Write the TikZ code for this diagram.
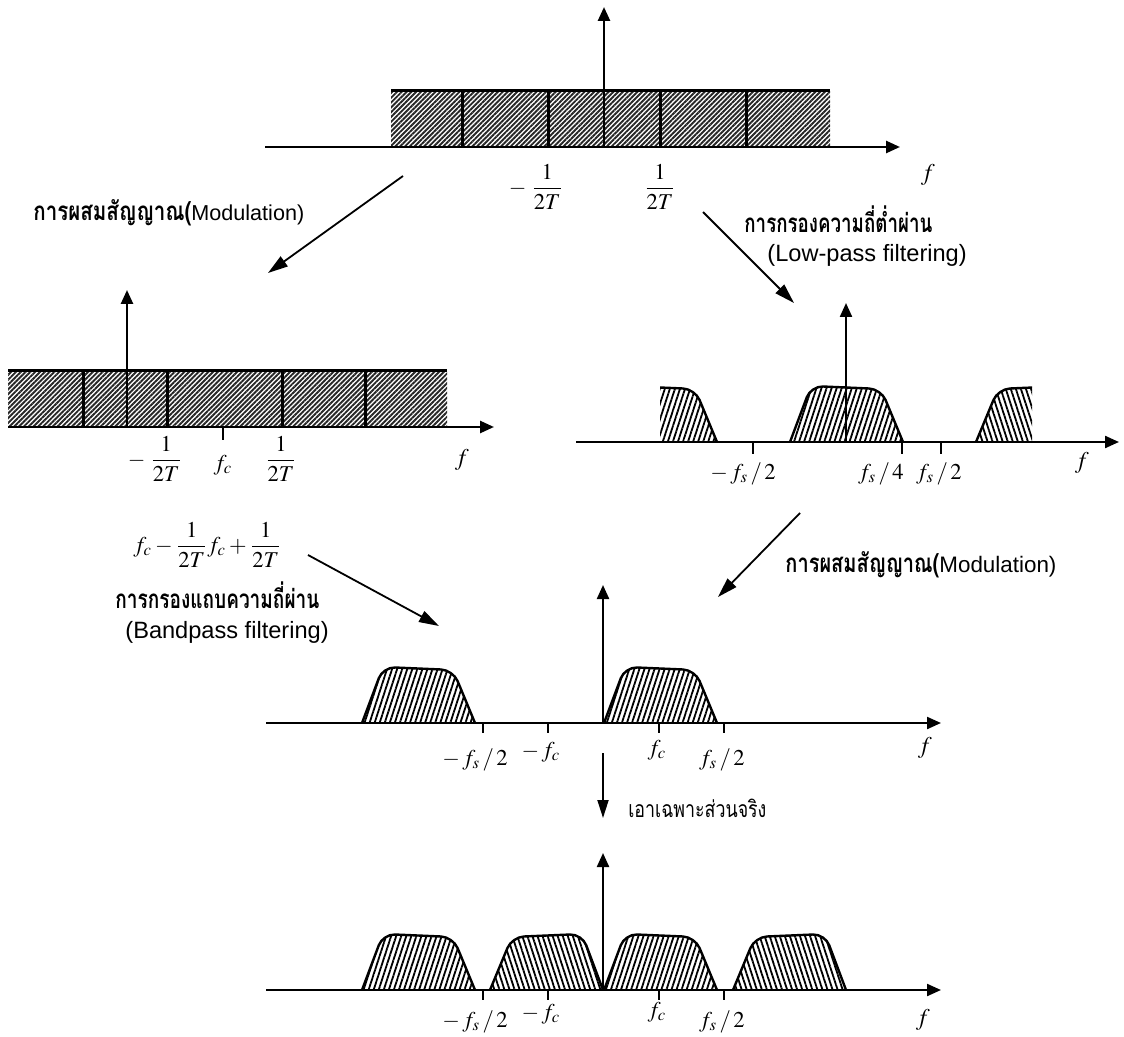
\documentclass[tikz,border=0pt]{standalone}
\usepackage{amsmath}
\usepackage{mathptmx}
\usepackage{fontspec}
\setmainfont{Liberation Serif}
\setsansfont{Liberation Sans}
\newfontfamily\thaifont[Script=Thai]{Loma}
\usetikzlibrary{arrows.meta,patterns.meta}
\newcommand{\fitw}[2]{\resizebox{#1}{\height}{#2}}
\tikzset{
  axisline/.style={line width=1.3pt,-{Triangle[length=7pt,width=6pt]}},
  vaxis/.style={line width=1.1pt,-{Triangle[length=7pt,width=6pt]}},
  flow/.style={line width=0.9pt,-{Triangle[length=10pt,width=6pt]}},
  downflow/.style={line width=0.9pt,-{Triangle[length=9pt,width=5.5pt]}},
  bandbox/.style={pattern={Lines[angle=45,distance=1.7pt,line width=0.95pt]},pattern color=black!85},
  bar/.style={line width=1.5pt},
  hatchup/.style={pattern={Lines[angle=72,distance=2.4pt,line width=0.9pt]},pattern color=black},
  hatchdn/.style={pattern={Lines[angle=108,distance=2.4pt,line width=0.9pt]},pattern color=black},
  lobeline/.style={line width=1.2pt,rounded corners=6pt},
  tickmark/.style={line width=0.9pt},
  mlab/.style={inner sep=0pt,font=\fontsize{11.3}{13}\selectfont},
  flab/.style={inner sep=0pt,font=\fontsize{12}{14}\selectfont},
  thaib/.style={inner sep=0pt,anchor=west,font=\thaifont\bfseries\fontsize{13}{15}\selectfont},
  thair/.style={inner sep=0pt,anchor=west,font=\thaifont\fontsize{11.5}{13}\selectfont},
  latin/.style={inner sep=0pt,anchor=west,font=\sffamily\fontsize{11.8}{14}\selectfont},
  pics/lobeA/.style={code={
    \path[hatchup,draw,lobeline] (0,0) -- (21,-56) -- (91,-53) -- (113,0);
  }},
  pics/lobeB/.style={code={
    \path[hatchdn,draw,lobeline] (0,0) -- (22,-53) -- (92,-56) -- (113,0);
  }},
}
\begin{document}
\begin{tikzpicture}[x=0.5pt,y=-0.5pt]
\useasboundingbox (0,0) rectangle (1124,1037);

% ---------- top panel ----------
\path[bandbox] (391,91) rectangle (830,147);
\draw[bar] (391,91) -- (830,91);
\foreach \x in {462,548,660,746} \draw[bar] (\x,91) -- (\x,147);
\coordinate (a1s) at (265,147);
\coordinate (a1e) at (900,147);
\draw[axisline] (a1s) -- (a1e);
\coordinate (v1s) at (604,147);
\coordinate (v1e) at (604,7);
\draw[vaxis,line width=1.3pt] (v1s) -- (v1e);
\node[mlab] (t1m) at (536,187) {$-\;\dfrac{1}{2T}$};
\node[mlab] (t1p) at (660,187) {$\dfrac{1}{2T}$};
\node[flab] (t1f) at (928,175) {$f$};

% ---------- middle left panel ----------
\path[bandbox] (8,371) rectangle (447,427);
\draw[bar] (8,371) -- (447,371);
\foreach \x in {83,167,282,365} \draw[bar] (\x,371) -- (\x,427);
\coordinate (a2s) at (8,427);
\coordinate (a2e) at (494,427);
\draw[axisline] (a2s) -- (a2e);
\coordinate (v2s) at (127,427);
\coordinate (v2e) at (127,290);
\draw[vaxis,line width=1.3pt] (v2s) -- (v2e);
\draw[tickmark] (223,427) -- (223,440);
\node[mlab] (t2m) at (155,459) {$-\;\dfrac{1}{2T}$};
\node[mlab] (t2c) at (223,465) {$f_c$};
\node[mlab] (t2p) at (281,459) {$\dfrac{1}{2T}$};
\node[flab] (t2f) at (462,460) {$f$};

% ---------- middle right panel ----------
\begin{scope}
  \clip (660,300) rectangle (800,450);
  \pic at (604,442) {lobeA};
\end{scope}
\pic at (790,442) {lobeA};
\begin{scope}
  \clip (900,300) rectangle (1032,450);
  \pic at (976,442) {lobeB};
\end{scope}
\coordinate (a3s) at (576,442);
\coordinate (a3e) at (1119,442);
\draw[axisline,line width=1.1pt] (a3s) -- (a3e);
\coordinate (v3s) at (846,442);
\coordinate (v3e) at (846,303);
\draw[vaxis] (v3s) -- (v3e);
\foreach \x in {753,902,941} \draw[tickmark] (\x,442) -- (\x,454);
\node[mlab] (t3a) at (743,474) {$-\,f_s\,/\,2$};
\node[mlab] (t3b) at (881,474) {$f_s\,/\,4$};
\node[mlab] (t3c) at (939,474) {$f_s\,/\,2$};
\node[flab] (t3f) at (1082,463) {$f$};

% ---------- third panel ----------
\pic at (362,723) {lobeA};
\pic at (604,723) {lobeA};
\coordinate (a4s) at (266,723);
\coordinate (a4e) at (941,723);
\draw[axisline,line width=1.1pt] (a4s) -- (a4e);
\coordinate (v4s) at (603,723);
\coordinate (v4e) at (603,585);
\draw[vaxis] (v4s) -- (v4e);
\foreach \x in {483,548,659,724} \draw[tickmark] (\x,723) -- (\x,733);
\node[mlab] (t4a) at (475,760) {$-\,f_s\,/\,2$};
\node[mlab] (t4b) at (541,752) {$-\,f_c$};
\node[mlab] (t4c) at (657,750) {$f_c$};
\node[mlab] (t4d) at (722,760) {$f_s\,/\,2$};
\node[flab] (t4f) at (925,748) {$f$};

% ---------- bottom panel ----------
\pic at (362,990) {lobeA};
\pic at (490,990) {lobeB};
\pic at (604,990) {lobeA};
\pic at (733,990) {lobeB};
\coordinate (a5s) at (266,990);
\coordinate (a5e) at (941,990);
\draw[axisline,line width=1.1pt] (a5s) -- (a5e);
\coordinate (v5s) at (603,990);
\coordinate (v5e) at (603,853);
\draw[vaxis] (v5s) -- (v5e);
\foreach \x in {483,548,659,724} \draw[tickmark] (\x,990) -- (\x,1000);
\node[mlab] (t5a) at (475,1022) {$-\,f_s\,/\,2$};
\node[mlab] (t5b) at (541,1014) {$-\,f_c$};
\node[mlab] (t5c) at (657,1012) {$f_c$};
\node[mlab] (t5d) at (722,1022) {$f_s\,/\,2$};
\node[flab] (t5f) at (923,1020) {$f$};

% ---------- labels ----------
\node[thaib] (modA) at (33,213) {\fitw{79pt}{การผสมสัญญาณ(}{\sffamily\mdseries\fontsize{10.8}{13}\selectfont Modulation)}};
\node[thaib] (lpT) at (744,219) {\fitw{94pt}{การกรองความถี่ต่ำผ่าน}};
\node[latin] (lpL) at (767,255) {(Low-pass filtering)};
\node[thaib] (modB) at (785,565) {\fitw{77pt}{การผสมสัญญาณ(}{\sffamily\mdseries\fontsize{11.2}{13}\selectfont Modulation)}};
\node[mlab,anchor=west] (bpF) at (133,545) {$f_c-\dfrac{1}{2T}f_c+\dfrac{1}{2T}$};
\node[thaib] (bpT) at (115,595) {\fitw{102pt}{การกรองแถบความถี่ผ่าน}};
\node[latin] (bpL) at (125,632) {(Bandpass filtering)};
\node[thair] (reT) at (628,808) {\fitw{69pt}{เอาเฉพาะส่วนจริง}};

% ---------- process arrows ----------
\coordinate (m1s) at (403,176); \coordinate (m1e) at (268,273);
\draw[flow] (m1s) -- (m1e);
\coordinate (l1s) at (703,212); \coordinate (l1e) at (794,303);
\draw[flow] (l1s) -- (l1e);
\coordinate (m2s) at (800,513); \coordinate (m2e) at (718,597);
\draw[flow] (m2s) -- (m2e);
\coordinate (b1s) at (308,555); \coordinate (b1e) at (439,626);
\draw[flow] (b1s) -- (b1e);
\coordinate (r1s) at (603,753); \coordinate (r1e) at (603,818);
\draw[downflow] (r1s) -- (r1e);
\end{tikzpicture}
\end{document}
